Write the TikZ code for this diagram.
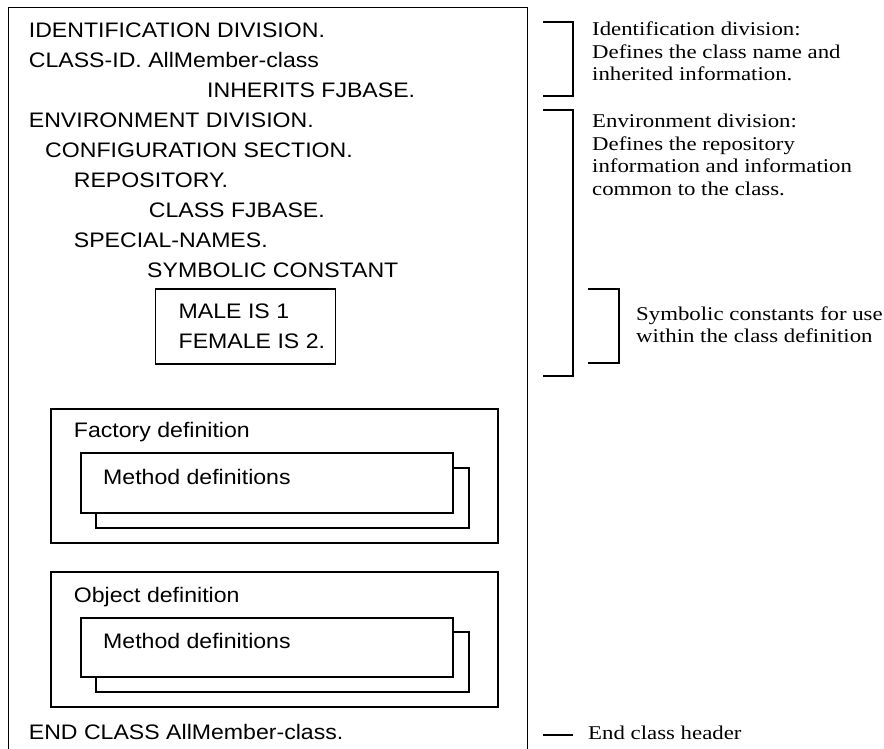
\documentclass[tikz,border=0pt]{standalone}
\usepackage{fontspec}
\setmainfont[FakeStretch=1.1]{Liberation Sans}
\newfontfamily\notefont[FakeStretch=1.17]{Liberation Serif}
\begin{document}
\begin{tikzpicture}[x=1pt,y=-1pt,
  code/.style={anchor=base west, inner sep=0pt, font=\fontsize{21}{25}\selectfont},
  note/.style={anchor=base west, inner sep=0pt, font=\notefont\fontsize{19.5}{22}\selectfont},
  frame/.style={draw=black, line width=1.5pt},
  mbox/.style={draw=black, line width=1.5pt, fill=white}]
\useasboundingbox[fill=white] (0,0) rectangle (884,749);
% main class box (open at the bottom)
\draw[frame] (8.7,749) -- (8.7,7.3) -- (527.5,7.3) -- (527.5,749);
% code lines
\node[code] (l1) at (28.7,38) {IDENTIFICATION DIVISION.};
\node[code] (l2) at (28.7,68) {CLASS-ID. AllMember-class};
\node[code] (l3) at (207,98) {INHERITS FJBASE.};
\node[code] (l4) at (28.7,128) {ENVIRONMENT DIVISION.};
\node[code] (l5) at (45,158) {CONFIGURATION SECTION.};
\node[code] (l6) at (73.7,187.5) {REPOSITORY.};
\node[code] (l7) at (148.7,217) {CLASS FJBASE.};
\node[code] (l8) at (73.7,247) {SPECIAL-NAMES.};
\node[code] (l9) at (147,277) {SYMBOLIC CONSTANT};
% symbolic constant box
\draw[frame] (155.5,289) rectangle (335.7,364);
\node[code] (m1) at (178.5,318) {MALE IS 1};
\node[code] (m2) at (178.5,348) {FEMALE IS 2.};
% factory definition
\draw[frame] (51,409) rectangle (498,543);
\node[code] (fd) at (73.7,437) {Factory definition};
\draw[mbox] (96,468) rectangle (469,528);
\draw[mbox] (81,453) rectangle (453,513);
\node[code] (fm) at (103,484) {Method definitions};
% object definition
\draw[frame] (51,572) rectangle (498,707);
\node[code] (od) at (73.7,602) {Object definition};
\draw[mbox] (96,632) rectangle (469,692);
\draw[mbox] (81,618) rectangle (453,677);
\node[code] (om) at (103,648) {Method definitions};
% end class
\node[code] (ec) at (28.7,739) {END CLASS AllMember-class.};
% brackets
\draw[frame] (543,22) -- (573,22) -- (573,96) -- (543,96);
\draw[frame] (543,110) -- (573,110) -- (573,376) -- (543,376);
\draw[frame] (588,289) -- (619,289) -- (619,363) -- (588,363);
\draw[frame] (543,735) -- (573,735);
% notes
\node[note] (n1) at (592,36) {Identification division:};
\node[note] (n2) at (592,58.5) {Defines the class name and};
\node[note] (n3) at (592,81) {inherited information.};
\node[note] (e1) at (592,128) {Environment division:};
\node[note] (e2) at (592,150.5) {Defines the repository};
\node[note] (e3) at (592,173) {information and information};
\node[note] (e4) at (592,195.5) {common to the class.};
\node[note] (s1) at (636,320) {Symbolic constants for use};
\node[note] (s2) at (636,342) {within the class definition};
\node[note] (eh) at (588,739) {End class header};
\end{tikzpicture}
\end{document}
